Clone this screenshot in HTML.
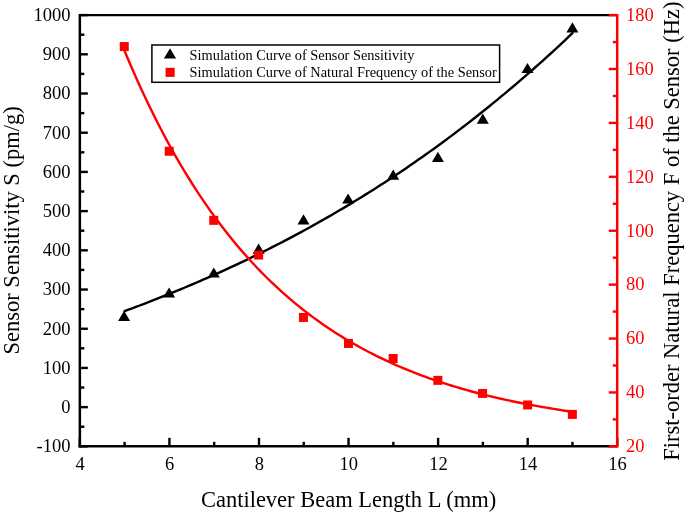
<!DOCTYPE html>
<html><head><meta charset="utf-8"><style>html,body{margin:0;padding:0;background:#fff;width:685px;height:513px;overflow:hidden;position:relative;font-family:"Liberation Serif",serif}</style></head>
<body>
<svg width="685" height="513" viewBox="0 0 685 513" style="position:absolute;left:0;top:0;will-change:transform">
<path d="M124.63,311.12 L128.40,309.73 L132.16,308.33 L135.92,306.92 L139.69,305.50 L143.45,304.07 L147.21,302.63 L150.98,301.17 L154.74,299.70 L158.50,298.22 L162.27,296.73 L166.03,295.22 L169.79,293.71 L173.56,292.18 L177.32,290.63 L181.08,289.08 L184.85,287.51 L188.61,285.93 L192.37,284.33 L196.14,282.73 L199.90,281.11 L203.66,279.47 L207.43,277.82 L211.19,276.16 L214.95,274.49 L218.71,272.80 L222.48,271.09 L226.24,269.38 L230.00,267.64 L233.77,265.90 L237.53,264.14 L241.29,262.36 L245.06,260.57 L248.82,258.76 L252.58,256.94 L256.35,255.10 L260.11,253.25 L263.87,251.38 L267.64,249.50 L271.40,247.60 L275.16,245.69 L278.93,243.76 L282.69,241.81 L286.45,239.85 L290.22,237.87 L293.98,235.87 L297.74,233.86 L301.51,231.83 L305.27,229.78 L309.03,227.72 L312.80,225.64 L316.56,223.54 L320.32,221.42 L324.09,219.29 L327.85,217.14 L331.61,214.97 L335.38,212.78 L339.14,210.58 L342.90,208.35 L346.67,206.11 L350.43,203.85 L354.19,201.57 L357.96,199.28 L361.72,196.96 L365.48,194.62 L369.25,192.27 L373.01,189.89 L376.77,187.50 L380.54,185.09 L384.30,182.66 L388.06,180.20 L391.83,177.73 L395.59,175.24 L399.35,172.72 L403.12,170.19 L406.88,167.64 L410.64,165.06 L414.41,162.47 L418.17,159.85 L421.93,157.21 L425.70,154.55 L429.46,151.87 L433.22,149.17 L436.99,146.45 L440.75,143.70 L444.51,140.94 L448.27,138.15 L452.04,135.34 L455.80,132.50 L459.56,129.65 L463.33,126.77 L467.09,123.87 L470.85,120.94 L474.62,117.99 L478.38,115.02 L482.14,112.03 L485.91,109.01 L489.67,105.97 L493.43,102.90 L497.20,99.81 L500.96,96.70 L504.72,93.56 L508.49,90.42 L512.25,87.26 L516.01,84.07 L519.78,80.86 L523.54,77.62 L527.30,74.36 L531.07,71.07 L534.83,67.76 L538.59,64.42 L542.36,61.06 L546.12,57.66 L549.88,54.24 L553.65,50.80 L557.41,47.32 L561.17,43.82 L564.94,40.29 L568.70,36.74 L572.46,33.15" fill="none" stroke="#000" stroke-width="2.4" stroke-linejoin="round" stroke-linecap="round"/>
<path d="M124.10,310.70 L130.10,320.90 L118.10,320.90Z" fill="#000"/>
<path d="M169.10,287.40 L175.10,297.60 L163.10,297.60Z" fill="#000"/>
<path d="M213.80,267.40 L219.80,277.60 L207.80,277.60Z" fill="#000"/>
<path d="M258.60,243.60 L264.60,253.80 L252.60,253.80Z" fill="#000"/>
<path d="M303.50,214.20 L309.50,224.40 L297.50,224.40Z" fill="#000"/>
<path d="M348.10,193.40 L354.10,203.60 L342.10,203.60Z" fill="#000"/>
<path d="M393.20,169.50 L399.20,179.70 L387.20,179.70Z" fill="#000"/>
<path d="M437.90,151.80 L443.90,162.00 L431.90,162.00Z" fill="#000"/>
<path d="M482.80,113.50 L488.80,123.70 L476.80,123.70Z" fill="#000"/>
<path d="M527.50,62.90 L533.50,73.10 L521.50,73.10Z" fill="#000"/>
<path d="M572.40,22.20 L578.40,32.40 L566.40,32.40Z" fill="#000"/>
<path d="M124.63,51.03 L128.40,59.99 L132.16,68.74 L135.92,77.29 L139.69,85.64 L143.45,93.80 L147.21,101.76 L150.98,109.54 L154.74,117.14 L158.50,124.56 L162.27,131.80 L166.03,138.88 L169.79,145.79 L173.56,152.54 L177.32,159.13 L181.08,165.57 L184.85,171.86 L188.61,178.00 L192.37,184.00 L196.14,189.86 L199.90,195.58 L203.66,201.17 L207.43,206.62 L211.19,211.95 L214.95,217.16 L218.71,222.24 L222.48,227.21 L226.24,232.06 L230.00,236.79 L233.77,241.42 L237.53,245.94 L241.29,250.35 L245.06,254.66 L248.82,258.87 L252.58,262.98 L256.35,266.99 L260.11,270.91 L263.87,274.74 L267.64,278.48 L271.40,282.13 L275.16,285.70 L278.93,289.18 L282.69,292.58 L286.45,295.91 L290.22,299.15 L293.98,302.32 L297.74,305.42 L301.51,308.44 L305.27,311.39 L309.03,314.28 L312.80,317.09 L316.56,319.84 L320.32,322.53 L324.09,325.15 L327.85,327.72 L331.61,330.22 L335.38,332.66 L339.14,335.05 L342.90,337.38 L346.67,339.66 L350.43,341.88 L354.19,344.05 L357.96,346.17 L361.72,348.25 L365.48,350.27 L369.25,352.25 L373.01,354.17 L376.77,356.06 L380.54,357.90 L384.30,359.70 L388.06,361.45 L391.83,363.17 L395.59,364.84 L399.35,366.48 L403.12,368.08 L406.88,369.64 L410.64,371.16 L414.41,372.65 L418.17,374.10 L421.93,375.52 L425.70,376.91 L429.46,378.26 L433.22,379.58 L436.99,380.88 L440.75,382.14 L444.51,383.37 L448.27,384.57 L452.04,385.75 L455.80,386.89 L459.56,388.01 L463.33,389.11 L467.09,390.18 L470.85,391.22 L474.62,392.24 L478.38,393.24 L482.14,394.21 L485.91,395.16 L489.67,396.09 L493.43,396.99 L497.20,397.88 L500.96,398.74 L504.72,399.59 L508.49,400.41 L512.25,401.22 L516.01,402.00 L519.78,402.77 L523.54,403.52 L527.30,404.25 L531.07,404.97 L534.83,405.67 L538.59,406.35 L542.36,407.02 L546.12,407.67 L549.88,408.30 L553.65,408.92 L557.41,409.53 L561.17,410.12 L564.94,410.70 L568.70,411.27 L572.46,411.82" fill="none" stroke="#f00" stroke-width="2.4" stroke-linejoin="round" stroke-linecap="round"/>
<rect x="119.75" y="42.05" width="9.0" height="9.0" fill="#f00"/>
<rect x="164.75" y="146.75" width="9.0" height="9.0" fill="#f00"/>
<rect x="209.25" y="215.85" width="9.0" height="9.0" fill="#f00"/>
<rect x="254.15" y="250.55" width="9.0" height="9.0" fill="#f00"/>
<rect x="298.95" y="312.95" width="9.0" height="9.0" fill="#f00"/>
<rect x="343.95" y="338.95" width="9.0" height="9.0" fill="#f00"/>
<rect x="388.65" y="354.00" width="9.0" height="9.0" fill="#f00"/>
<rect x="433.35" y="375.85" width="9.0" height="9.0" fill="#f00"/>
<rect x="478.10" y="388.95" width="9.0" height="9.0" fill="#f00"/>
<rect x="523.10" y="400.45" width="9.0" height="9.0" fill="#f00"/>
<rect x="567.85" y="409.90" width="9.0" height="9.0" fill="#f00"/>
<line x1="79.85" y1="15.1" x2="617.2" y2="15.1" stroke="#000" stroke-width="2.3"/>
<line x1="78.6" y1="446.35" x2="617.2" y2="446.35" stroke="#000" stroke-width="2.5"/>
<line x1="79.85" y1="13.95" x2="79.85" y2="447.6" stroke="#000" stroke-width="2.5"/>
<line x1="79.85" y1="446.35" x2="87.85" y2="446.35" stroke="#000" stroke-width="2.4"/>
<text x="70.5" y="452.15" font-family="Liberation Serif" font-size="18.5" text-anchor="end">-100</text>
<line x1="79.85" y1="426.75" x2="84.35" y2="426.75" stroke="#000" stroke-width="2.4"/>
<line x1="79.85" y1="407.15" x2="87.85" y2="407.15" stroke="#000" stroke-width="2.4"/>
<text x="70.5" y="412.95" font-family="Liberation Serif" font-size="18.5" text-anchor="end">0</text>
<line x1="79.85" y1="387.54" x2="84.35" y2="387.54" stroke="#000" stroke-width="2.4"/>
<line x1="79.85" y1="367.94" x2="87.85" y2="367.94" stroke="#000" stroke-width="2.4"/>
<text x="70.5" y="373.74" font-family="Liberation Serif" font-size="18.5" text-anchor="end">100</text>
<line x1="79.85" y1="348.34" x2="84.35" y2="348.34" stroke="#000" stroke-width="2.4"/>
<line x1="79.85" y1="328.74" x2="87.85" y2="328.74" stroke="#000" stroke-width="2.4"/>
<text x="70.5" y="334.54" font-family="Liberation Serif" font-size="18.5" text-anchor="end">200</text>
<line x1="79.85" y1="309.13" x2="84.35" y2="309.13" stroke="#000" stroke-width="2.4"/>
<line x1="79.85" y1="289.53" x2="87.85" y2="289.53" stroke="#000" stroke-width="2.4"/>
<text x="70.5" y="295.33" font-family="Liberation Serif" font-size="18.5" text-anchor="end">300</text>
<line x1="79.85" y1="269.93" x2="84.35" y2="269.93" stroke="#000" stroke-width="2.4"/>
<line x1="79.85" y1="250.33" x2="87.85" y2="250.33" stroke="#000" stroke-width="2.4"/>
<text x="70.5" y="256.13" font-family="Liberation Serif" font-size="18.5" text-anchor="end">400</text>
<line x1="79.85" y1="230.73" x2="84.35" y2="230.73" stroke="#000" stroke-width="2.4"/>
<line x1="79.85" y1="211.12" x2="87.85" y2="211.12" stroke="#000" stroke-width="2.4"/>
<text x="70.5" y="216.92" font-family="Liberation Serif" font-size="18.5" text-anchor="end">500</text>
<line x1="79.85" y1="191.52" x2="84.35" y2="191.52" stroke="#000" stroke-width="2.4"/>
<line x1="79.85" y1="171.92" x2="87.85" y2="171.92" stroke="#000" stroke-width="2.4"/>
<text x="70.5" y="177.72" font-family="Liberation Serif" font-size="18.5" text-anchor="end">600</text>
<line x1="79.85" y1="152.32" x2="84.35" y2="152.32" stroke="#000" stroke-width="2.4"/>
<line x1="79.85" y1="132.71" x2="87.85" y2="132.71" stroke="#000" stroke-width="2.4"/>
<text x="70.5" y="138.51" font-family="Liberation Serif" font-size="18.5" text-anchor="end">700</text>
<line x1="79.85" y1="113.11" x2="84.35" y2="113.11" stroke="#000" stroke-width="2.4"/>
<line x1="79.85" y1="93.51" x2="87.85" y2="93.51" stroke="#000" stroke-width="2.4"/>
<text x="70.5" y="99.31" font-family="Liberation Serif" font-size="18.5" text-anchor="end">800</text>
<line x1="79.85" y1="73.91" x2="84.35" y2="73.91" stroke="#000" stroke-width="2.4"/>
<line x1="79.85" y1="54.30" x2="87.85" y2="54.30" stroke="#000" stroke-width="2.4"/>
<text x="70.5" y="60.10" font-family="Liberation Serif" font-size="18.5" text-anchor="end">900</text>
<line x1="79.85" y1="34.70" x2="84.35" y2="34.70" stroke="#000" stroke-width="2.4"/>
<line x1="79.85" y1="15.10" x2="87.85" y2="15.10" stroke="#000" stroke-width="2.4"/>
<text x="70.5" y="20.90" font-family="Liberation Serif" font-size="18.5" text-anchor="end">1000</text>
<line x1="79.85" y1="446.35" x2="79.85" y2="437.85" stroke="#000" stroke-width="2.4"/>
<text x="80.15" y="469.6" font-family="Liberation Serif" font-size="18.5" text-anchor="middle">4</text>
<line x1="124.63" y1="446.35" x2="124.63" y2="441.85" stroke="#000" stroke-width="2.4"/>
<line x1="169.42" y1="446.35" x2="169.42" y2="437.85" stroke="#000" stroke-width="2.4"/>
<text x="169.72" y="469.6" font-family="Liberation Serif" font-size="18.5" text-anchor="middle">6</text>
<line x1="214.20" y1="446.35" x2="214.20" y2="441.85" stroke="#000" stroke-width="2.4"/>
<line x1="258.98" y1="446.35" x2="258.98" y2="437.85" stroke="#000" stroke-width="2.4"/>
<text x="259.28" y="469.6" font-family="Liberation Serif" font-size="18.5" text-anchor="middle">8</text>
<line x1="303.76" y1="446.35" x2="303.76" y2="441.85" stroke="#000" stroke-width="2.4"/>
<line x1="348.55" y1="446.35" x2="348.55" y2="437.85" stroke="#000" stroke-width="2.4"/>
<text x="348.85" y="469.6" font-family="Liberation Serif" font-size="18.5" text-anchor="middle">10</text>
<line x1="393.33" y1="446.35" x2="393.33" y2="441.85" stroke="#000" stroke-width="2.4"/>
<line x1="438.11" y1="446.35" x2="438.11" y2="437.85" stroke="#000" stroke-width="2.4"/>
<text x="438.41" y="469.6" font-family="Liberation Serif" font-size="18.5" text-anchor="middle">12</text>
<line x1="482.90" y1="446.35" x2="482.90" y2="441.85" stroke="#000" stroke-width="2.4"/>
<line x1="527.68" y1="446.35" x2="527.68" y2="437.85" stroke="#000" stroke-width="2.4"/>
<text x="527.98" y="469.6" font-family="Liberation Serif" font-size="18.5" text-anchor="middle">14</text>
<line x1="572.46" y1="446.35" x2="572.46" y2="441.85" stroke="#000" stroke-width="2.4"/>
<line x1="617.25" y1="446.35" x2="617.25" y2="437.85" stroke="#000" stroke-width="2.4"/>
<text x="617.55" y="469.6" font-family="Liberation Serif" font-size="18.5" text-anchor="middle">16</text>
<line x1="617.2" y1="13.95" x2="617.2" y2="447.6" stroke="#f00" stroke-width="2.5"/>
<line x1="617.2" y1="446.35" x2="608.80" y2="446.35" stroke="#f00" stroke-width="2.4"/>
<text x="625.9" y="452.15" font-family="Liberation Serif" font-size="18.5" fill="#f00">20</text>
<line x1="617.2" y1="419.40" x2="612.80" y2="419.40" stroke="#f00" stroke-width="2.4"/>
<line x1="617.2" y1="392.44" x2="608.80" y2="392.44" stroke="#f00" stroke-width="2.4"/>
<text x="625.9" y="398.24" font-family="Liberation Serif" font-size="18.5" fill="#f00">40</text>
<line x1="617.2" y1="365.49" x2="612.80" y2="365.49" stroke="#f00" stroke-width="2.4"/>
<line x1="617.2" y1="338.54" x2="608.80" y2="338.54" stroke="#f00" stroke-width="2.4"/>
<text x="625.9" y="344.34" font-family="Liberation Serif" font-size="18.5" fill="#f00">60</text>
<line x1="617.2" y1="311.58" x2="612.80" y2="311.58" stroke="#f00" stroke-width="2.4"/>
<line x1="617.2" y1="284.63" x2="608.80" y2="284.63" stroke="#f00" stroke-width="2.4"/>
<text x="625.9" y="290.43" font-family="Liberation Serif" font-size="18.5" fill="#f00">80</text>
<line x1="617.2" y1="257.68" x2="612.80" y2="257.68" stroke="#f00" stroke-width="2.4"/>
<line x1="617.2" y1="230.73" x2="608.80" y2="230.73" stroke="#f00" stroke-width="2.4"/>
<text x="625.9" y="236.53" font-family="Liberation Serif" font-size="18.5" fill="#f00">100</text>
<line x1="617.2" y1="203.77" x2="612.80" y2="203.77" stroke="#f00" stroke-width="2.4"/>
<line x1="617.2" y1="176.82" x2="608.80" y2="176.82" stroke="#f00" stroke-width="2.4"/>
<text x="625.9" y="182.62" font-family="Liberation Serif" font-size="18.5" fill="#f00">120</text>
<line x1="617.2" y1="149.87" x2="612.80" y2="149.87" stroke="#f00" stroke-width="2.4"/>
<line x1="617.2" y1="122.91" x2="608.80" y2="122.91" stroke="#f00" stroke-width="2.4"/>
<text x="625.9" y="128.71" font-family="Liberation Serif" font-size="18.5" fill="#f00">140</text>
<line x1="617.2" y1="95.96" x2="612.80" y2="95.96" stroke="#f00" stroke-width="2.4"/>
<line x1="617.2" y1="69.01" x2="608.80" y2="69.01" stroke="#f00" stroke-width="2.4"/>
<text x="625.9" y="74.81" font-family="Liberation Serif" font-size="18.5" fill="#f00">160</text>
<line x1="617.2" y1="42.05" x2="612.80" y2="42.05" stroke="#f00" stroke-width="2.4"/>
<line x1="617.2" y1="15.10" x2="608.80" y2="15.10" stroke="#f00" stroke-width="2.4"/>
<text x="625.9" y="20.90" font-family="Liberation Serif" font-size="18.5" fill="#f00">180</text>
<rect x="151.9" y="45.0" width="347.7" height="37.3" fill="#fff" stroke="#000" stroke-width="1.5"/>
<path d="M170,48.3 L176.1,58.6 L163.9,58.6Z" fill="#000"/>
<rect x="165.6" y="67.8" width="9.1" height="9.1" fill="#f00"/>
<text x="189.6" y="60.0" font-family="Liberation Serif" font-size="14.35">Simulation Curve of Sensor Sensitivity</text>
<text x="189.6" y="77.0" font-family="Liberation Serif" font-size="14.35">Simulation Curve of Natural Frequency of the Sensor</text>
<text x="200.9" y="506.7" font-family="Liberation Serif" font-size="22.5">Cantilever Beam Length L (mm)</text>
<text transform="translate(19.1,354.5) rotate(-90)" x="0" y="0" font-family="Liberation Serif" font-size="22.5">Sensor Sensitivity S (pm/g)</text>
<text transform="translate(679.0,460.8) rotate(-90)" x="0" y="0" font-family="Liberation Serif" font-size="22.5">First-order Natural Frequency F of the Sensor (Hz)</text>
</svg>
</body></html>
